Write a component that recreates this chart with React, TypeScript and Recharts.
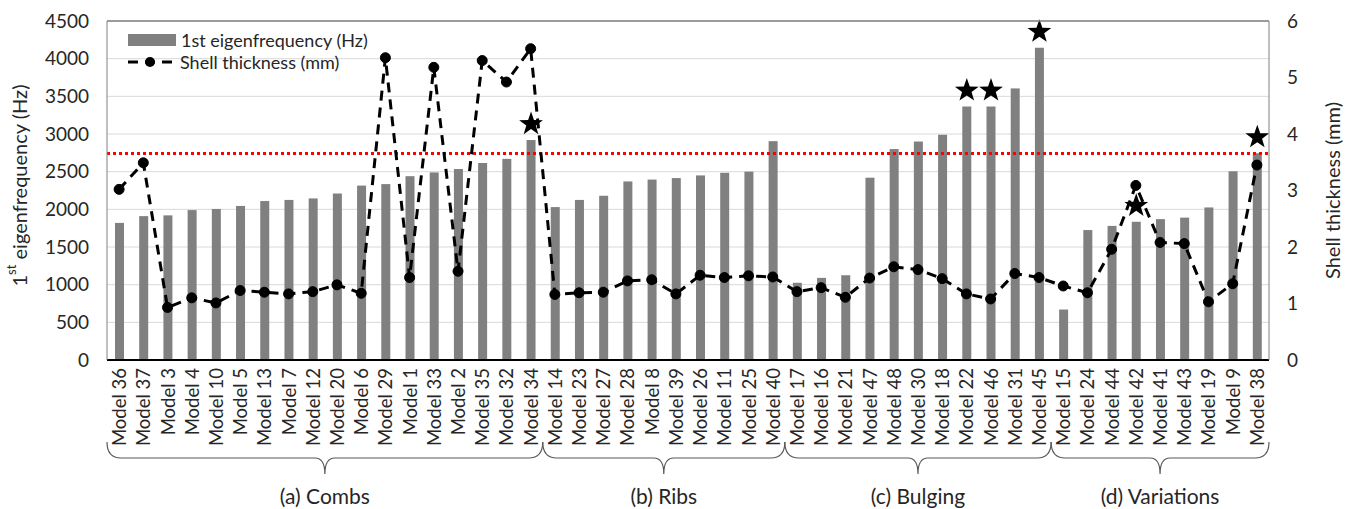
import { ComposedChart, Bar, Line, XAxis, YAxis, CartesianGrid, ReferenceLine, Label } from 'recharts';

const models = [
  'Model 36', 'Model 37', 'Model 3', 'Model 4', 'Model 10', 'Model 5', 'Model 13', 'Model 7', 'Model 12',
  'Model 20', 'Model 6', 'Model 29', 'Model 1', 'Model 33', 'Model 2', 'Model 35', 'Model 32', 'Model 34',
  'Model 14', 'Model 23', 'Model 27', 'Model 28', 'Model 8', 'Model 39', 'Model 26', 'Model 11', 'Model 25',
  'Model 40', 'Model 17', 'Model 16', 'Model 21', 'Model 47', 'Model 48', 'Model 30', 'Model 18', 'Model 22',
  'Model 46', 'Model 31', 'Model 45', 'Model 15', 'Model 24', 'Model 44', 'Model 42', 'Model 41', 'Model 43',
  'Model 19', 'Model 9', 'Model 38',
];

const eigenfrequency = [
  1820, 1910, 1920, 1990, 2005, 2045, 2110, 2125, 2145,
  2210, 2315, 2335, 2440, 2490, 2535, 2615, 2670, 2920,
  2030, 2125, 2180, 2370, 2395, 2415, 2450, 2485, 2500,
  2905, 1025, 1090, 1125, 2420, 2800, 2900, 2990, 3365,
  3365, 3605, 4145, 670, 1725, 1780, 1835, 1870, 1890,
  2025, 2505, 2745,
];

const thickness = [
  3.02, 3.49, 0.93, 1.1, 1.01, 1.23, 1.2, 1.17, 1.21,
  1.33, 1.18, 5.35, 1.46, 5.18, 1.57, 5.3, 4.92, 5.51,
  1.16, 1.19, 1.2, 1.4, 1.42, 1.17, 1.5, 1.46, 1.49,
  1.47, 1.21, 1.28, 1.11, 1.45, 1.65, 1.6, 1.44, 1.17,
  1.08, 1.53, 1.46, 1.31, 1.19, 1.96, 3.09, 2.08, 2.06,
  1.03, 1.35, 3.45,
];

const starred = ['Model 34', 'Model 22', 'Model 46', 'Model 45', 'Model 42', 'Model 38'];

const groupLabels = ['(a) Combs', '(b) Ribs', '(c) Bulging', '(d) Variations'];
const groupSizes = [18, 10, 11, 9];

const freqTicks = [0, 500, 1000, 1500, 2000, 2500, 3000, 3500, 4000, 4500];
const thickTicks = [0, 1, 2, 3, 4, 5, 6];
const threshold = 2740;

const data = models.map((name, i) => ({
  name,
  freq: eigenfrequency[i],
  thick: thickness[i],
  star: starred.includes(name),
}));

const groupStarts = groupSizes.map((_, i) => groupSizes.slice(0, i).reduce((a, b) => a + b, 0));

const W = 1354;
const H = 509;
const LEFT_W = 107;
const RIGHT_W = 85;
const band = (W - LEFT_W - RIGHT_W) / models.length;
const FONT = 'Lato, "Open Sans", sans-serif';
const TXT = '#262626';

const starPoints = (cx: number, cy: number, ro: number, ri: number) => {
  const pts: string[] = [];
  for (let k = 0; k < 10; k++) {
    const r = k % 2 === 0 ? ro : ri;
    const a = -Math.PI / 2 + (k * Math.PI) / 5;
    pts.push(`${cx + r * Math.cos(a)},${cy + r * Math.sin(a)}`);
  }
  return pts.join(' ');
};

const BarWithStar = (props: any) => {
  const { x, y, width, height, payload } = props;
  return (
    <g>
      <rect x={x} y={y} width={width} height={height} fill="#808080" />
      {payload.star && <polygon points={starPoints(x + width / 2, y - 16, 12.5, 5)} fill="#000" />}
    </g>
  );
};

const ModelTick = (props: any) => {
  const { x, y, payload } = props;
  const idx = models.indexOf(payload.value);
  const gi = groupStarts.indexOf(idx);
  let brace = null;
  if (gi >= 0) {
    const xl = x - band / 2;
    const xr = xl + groupSizes[gi] * band;
    const xc = (xl + xr) / 2;
    const y0 = y + 82;
    const y1 = y + 98;
    const y2 = y + 114;
    const d = `M${xl},${y0} Q${xl},${y1} ${xl + 14},${y1} L${xc - 10},${y1} Q${xc},${y1} ${xc},${y2} Q${xc},${y1} ${xc + 10},${y1} L${xr - 14},${y1} Q${xr},${y1} ${xr},${y0}`;
    brace = (
      <g>
        <path d={d} fill="none" stroke="#595959" strokeWidth={1.2} />
        <text x={xc} y={y + 135} textAnchor="middle" dominantBaseline="central" fontSize={21} fill={TXT}>
          {groupLabels[gi]}
        </text>
      </g>
    );
  }
  return (
    <g>
      <text transform={`translate(${x},${y + 8}) rotate(-90)`} textAnchor="end" dominantBaseline="central" fontSize={18.5} fill={TXT}>
        {payload.value}
      </text>
      {brace}
    </g>
  );
};

const LeftTitle = (props: any) => {
  const vb = props.viewBox;
  const cx = vb.x + 19;
  const cy = vb.y + vb.height / 2 - 5;
  return (
    <text transform={`translate(${cx},${cy}) rotate(-90)`} textAnchor="middle" dominantBaseline="central" fontSize={20} fill={TXT}>
      <tspan>1</tspan>
      <tspan fontSize={13} dy={-8}>st</tspan>
      <tspan dy={8}> eigenfrequency (Hz)</tspan>
    </text>
  );
};

const RightTitle = (props: any) => {
  const vb = props.viewBox;
  const cx = vb.x + 63;
  const cy = vb.y + vb.height / 2;
  return (
    <text transform={`translate(${cx},${cy}) rotate(-90)`} textAnchor="middle" dominantBaseline="central" fontSize={20} fill={TXT}>
      Shell thickness (mm)
    </text>
  );
};

const LegendBox = () => (
  <div style={{ position: 'absolute', left: 128, top: 29, fontSize: 18, color: TXT, lineHeight: '22px' }}>
    <div style={{ display: 'flex', alignItems: 'center', gap: 5 }}>
      <div style={{ width: 48, height: 12, background: '#808080' }} />
      <span>1st eigenfrequency (Hz)</span>
    </div>
    <div style={{ display: 'flex', alignItems: 'center', gap: 2 }}>
      <svg width={50} height={16}>
        <line x1={0} y1={8} x2={50} y2={8} stroke="#000" strokeWidth={3} strokeDasharray="10 7" />
        <circle cx={22} cy={8} r={5} fill="#000" />
      </svg>
      <span>Shell thickness (mm)</span>
    </div>
  </div>
);

export default function App() {
  return (
    <div style={{ position: 'relative', width: W, height: H, fontFamily: FONT, background: '#fff' }}>
      <style>{'body{margin:0}'}</style>
      <ComposedChart width={W} height={H} data={data} margin={{ top: 21, right: 0, bottom: 0, left: 0 }} barSize={9}>
        <CartesianGrid yAxisId="left" vertical={false} stroke="#d9d9d9" />
        <XAxis
          dataKey="name"
          interval={0}
          height={149}
          tickLine={false}
          tickSize={0}
          tickMargin={0}
          axisLine={{ stroke: '#000', strokeWidth: 2 }}
          tick={<ModelTick />}
        />
        <YAxis
          yAxisId="left"
          width={LEFT_W}
          domain={[0, 4500]}
          ticks={freqTicks}
          tickLine={false}
          tickSize={0}
          tickMargin={18}
          axisLine={{ stroke: '#808080' }}
          tick={{ fontSize: 19, fill: TXT }}
        >
          <Label content={LeftTitle} />
        </YAxis>
        <YAxis
          yAxisId="right"
          orientation="right"
          width={RIGHT_W}
          domain={[0, 6]}
          ticks={thickTicks}
          tickLine={false}
          tickSize={0}
          tickMargin={18}
          axisLine={{ stroke: '#808080' }}
          tick={{ fontSize: 19, fill: TXT }}
        >
          <Label content={RightTitle} />
        </YAxis>
        <ReferenceLine yAxisId="left" y={4500} stroke="#808080" strokeWidth={1.5} />
        <Bar yAxisId="left" dataKey="freq" fill="#808080" shape={<BarWithStar />} isAnimationActive={false} />
        <ReferenceLine yAxisId="left" y={threshold} stroke="#ff0000" strokeWidth={3} strokeDasharray="3 3" />
        <Line
          yAxisId="right"
          type="linear"
          dataKey="thick"
          stroke="#000"
          strokeWidth={3}
          strokeDasharray="10 7"
          dot={{ r: 5, fill: '#000', stroke: '#000', strokeWidth: 1, strokeDasharray: '' }}
          isAnimationActive={false}
        />
      </ComposedChart>
      <LegendBox />
    </div>
  );
}
